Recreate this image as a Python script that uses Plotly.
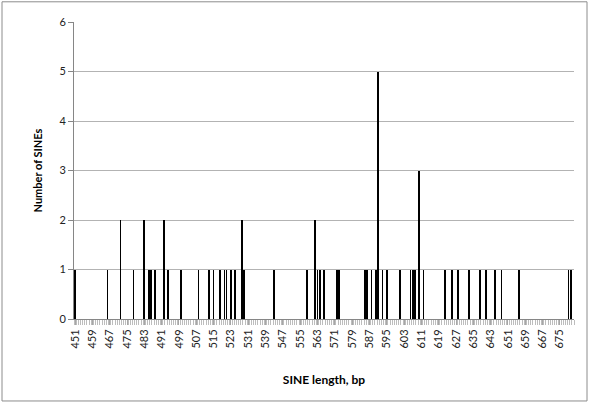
import plotly.graph_objects as go

# SINE lengths (bp) and number of SINEs of that length
lengths = [451, 466, 472, 478, 483, 485, 486, 488, 492, 494, 500, 508, 513, 515,
           518, 520, 521, 523, 525, 528, 529, 543, 558, 562, 563, 564, 566, 572,
           573, 585, 586, 588, 590, 591, 593, 595, 601, 606, 607, 608, 610, 612,
           622, 625, 628, 633, 638, 641, 645, 648, 656, 679, 680]
counts = [1, 1, 2, 1, 2, 1, 1, 1, 2, 1, 1, 1, 1, 1,
          1, 1, 1, 1, 1, 2, 1, 1, 1, 2, 1, 1, 1, 1,
          1, 1, 1, 1, 1, 5, 1, 1, 1, 1, 1, 1, 3, 1,
          1, 1, 1, 1, 1, 1, 1, 1, 1, 1, 1]

x_tick_labels = [451, 459, 467, 475, 483, 491, 499, 507, 515, 523, 531, 539, 547,
                 555, 563, 571, 579, 587, 595, 603, 611, 619, 627, 635, 643, 651,
                 659, 667, 675]
y_ticks = [0, 1, 2, 3, 4, 5, 6]
x_first, x_last = 451, 681

FONT = "Lato"
GRID = "#b3b3b3"
AXIS = "#868686"

fig = go.Figure()
fig.add_trace(go.Bar(
    x=lengths, y=counts, width=0.35,
    marker=dict(color="#000000", line=dict(width=0)),
    showlegend=False,
))

fig.update_layout(
    width=600, height=404,
    margin=dict(l=74, r=26, t=22, b=85),
    paper_bgcolor="white", plot_bgcolor="white",
    font=dict(family=FONT, size=11, color="#000000"),
    bargap=0,
    shapes=[dict(type="rect", xref="paper", yref="paper",
                 x0=-0.144, x1=1.026, y0=-0.276, y1=1.068,
                 line=dict(color="#8c8c8c", width=1), fillcolor="rgba(0,0,0,0)",
                 layer="below")],
)

fig.update_xaxes(
    automargin=False,
    range=[x_first - 0.5, x_last + 0.5],
    tickmode="array", tickvals=x_tick_labels,
    ticktext=[str(v) for v in x_tick_labels],
    tickangle=-90, tickfont=dict(size=11, family=FONT, color="#222222"),
    ticks="outside", ticklen=5, tickcolor="#a6a6a6",
    minor=dict(ticks="outside", ticklen=5, tickcolor="#bdbdbd", tick0=x_first - 0.5,
               dtick=1, showgrid=False),
    showline=True, linecolor=AXIS, linewidth=1,
    showgrid=False, zeroline=False,
    title=dict(text="<b>SINE length, bp</b>", font=dict(size=12, family=FONT),
               standoff=28),
)
fig.update_yaxes(
    automargin=False,
    range=[0, 6], tickmode="array", tickvals=y_ticks,
    tickfont=dict(size=11, family=FONT, color="#222222"),
    ticks="outside", ticklen=5, tickcolor=AXIS,
    showline=True, linecolor=AXIS, linewidth=1,
    showgrid=True, gridcolor=GRID, gridwidth=1, zeroline=False,
    title=dict(text="<b>Number of SINEs</b>", font=dict(size=11, family=FONT),
               standoff=14),
)

fig.write_html("out.html",
               config={"displayModeBar": False},
               post_script="document.body.style.margin='0';"
                           "document.body.style.overflow='hidden';")
